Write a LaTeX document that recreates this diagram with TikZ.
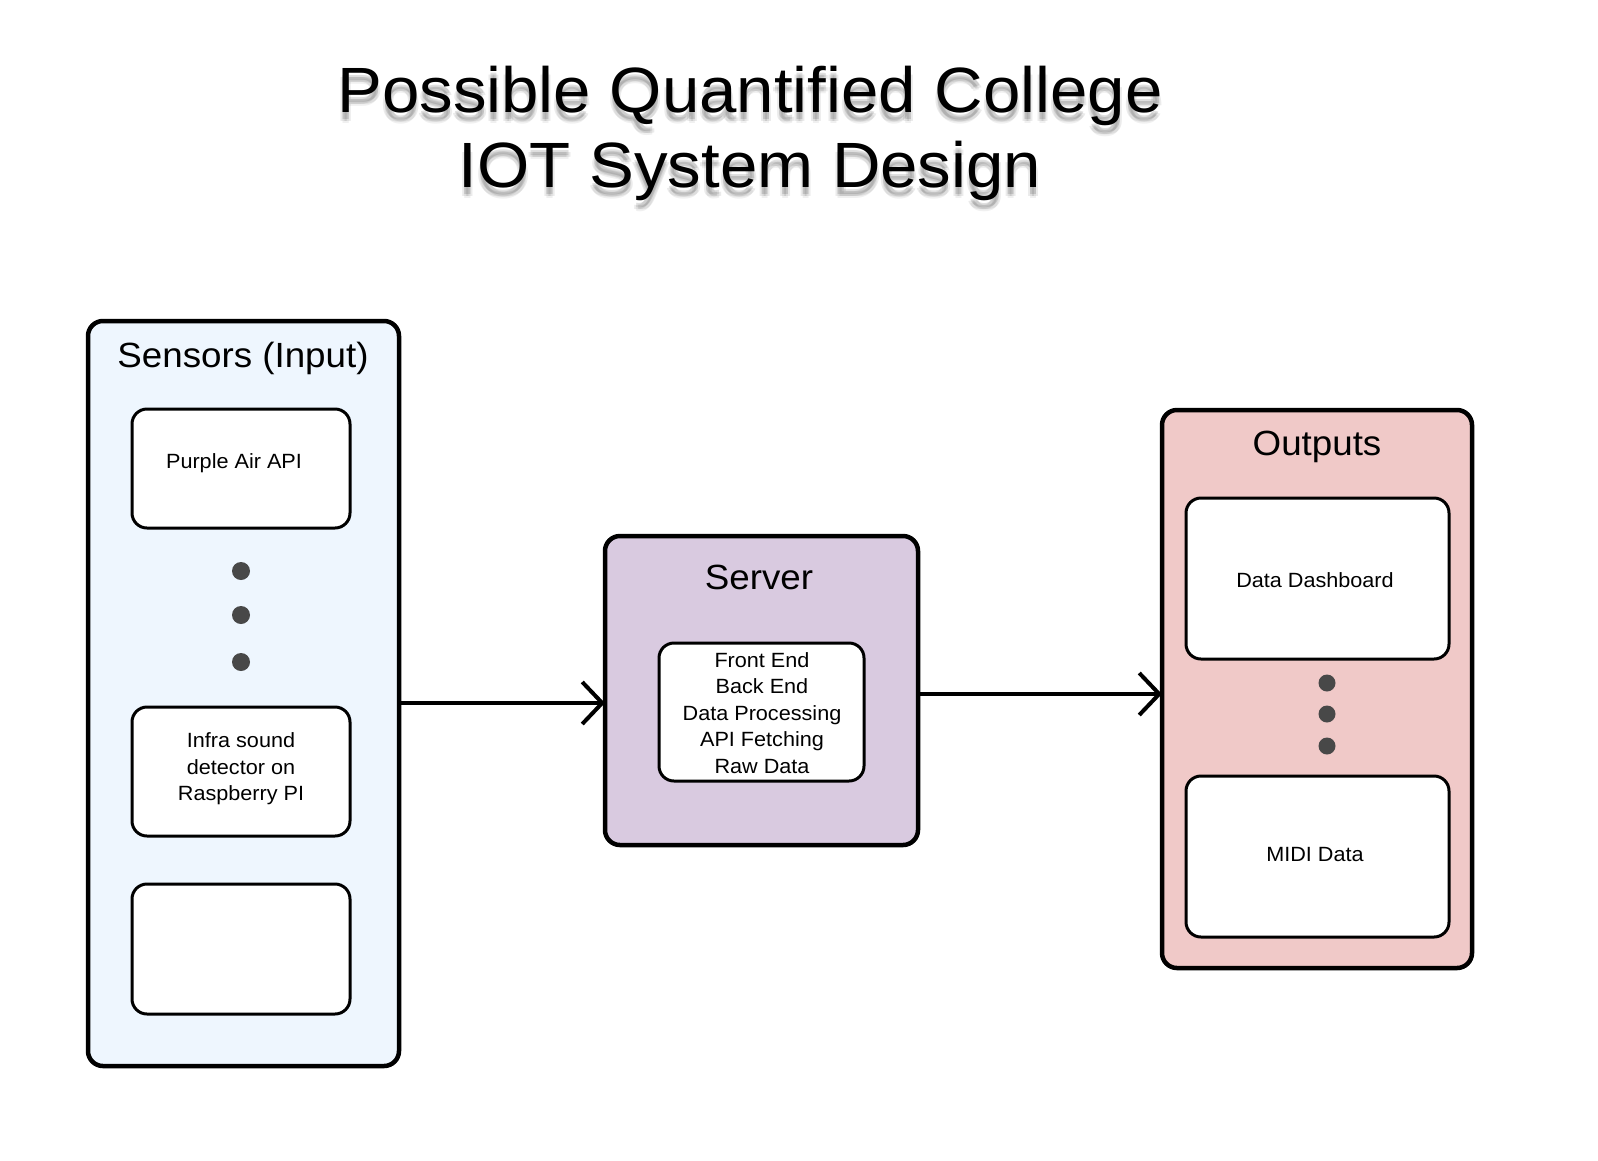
\documentclass[tikz,border=0pt]{standalone}
\usepackage{fontspec}
\setmainfont[FakeStretch=1.05]{Liberation Sans}
\usetikzlibrary{arrows.meta}
\definecolor{sensfill}{HTML}{EEF6FE}
\definecolor{servfill}{HTML}{D9CAE0}
\definecolor{outfill}{HTML}{F0C9C8}
\definecolor{dotc}{HTML}{484848}
\tikzset{
  group/.style={draw=black, line width=4.5pt, rounded corners=15pt},
  card/.style={draw=black, line width=3pt, fill=white, rounded corners=15pt},
  ttl/.style={font=\fontsize{35}{40}\selectfont},
  lbl/.style={font=\fontsize{20.6}{26.5}\selectfont, align=center},
  dotn/.style={circle, fill=dotc, inner sep=0pt, minimum size=#1},
  flow/.style={line width=4pt, -{Straight Barb[length=20pt, width=42pt, line width=4pt]}},
  titl/.style={font=\fontsize{64}{75}\selectfont, align=center},
}
\begin{document}
\begin{tikzpicture}[x=1pt, y=-1pt]
\useasboundingbox[fill=white] (0,0) rectangle (1598,1160);
% title shadow
\foreach \dx/\dy/\op in {0/7/0.12, 2/9/0.08, -2/9/0.08, 0/11/0.06}{
  \node[titl, text=black, opacity=\op] at (750+\dx,133+\dy) {Possible Quantified College\\IOT System Design};
}
\node (title) [titl] at (750,133) {Possible Quantified College\\IOT System Design};

% Sensors
\draw[group, fill=sensfill] (88,321) rectangle (399,1066);
\coordinate (sensR) at (399,703);
\node (senst) [ttl] at (243,358) {Sensors (Input)};
\draw[card] (132,409) rectangle (350,528);
\node (pa) [lbl] at (234,463) {Purple Air API};
\node (d1) [dotn=18pt] at (241,571) {};
\node (d2) [dotn=18pt] at (241,615) {};
\node (d3) [dotn=18pt] at (241,662) {};
\draw[card] (132,707) rectangle (350,836);
\node (infra) [lbl] at (241,769) {Infra sound\\detector on\\Raspberry PI};
\draw[card] (132,884) rectangle (350,1014);

% Server
\draw[group, fill=servfill] (605,536) rectangle (918,845);
\coordinate (servL) at (605,703);
\coordinate (servR) at (918,694);
\node (servt) [ttl] at (759,577) {Server};
\draw[card] (659,643) rectangle (864,781);
\node (servl) [lbl] at (762,713) {Front End\\Back End\\Data Processing\\API Fetching\\Raw Data};

% Outputs
\draw[group, fill=outfill] (1162,410) rectangle (1472,968);
\coordinate (outL) at (1162,694);
\node (outt) [ttl] at (1317,447) {Outputs};
\draw[card] (1186,498) rectangle (1449,659);
\node (dash) [lbl] at (1315,580) {Data Dashboard};
\node (e1) [dotn=17pt] at (1327,683) {};
\node (e2) [dotn=17pt] at (1327,714) {};
\node (e3) [dotn=17pt] at (1327,746) {};
\draw[card] (1186,776) rectangle (1449,937);
\node (midi) [lbl] at (1315,854) {MIDI Data};

% arrows
\draw[flow] (sensR) -- (servL);
\draw[flow] (servR) -- (outL);
\end{tikzpicture}
\end{document}
